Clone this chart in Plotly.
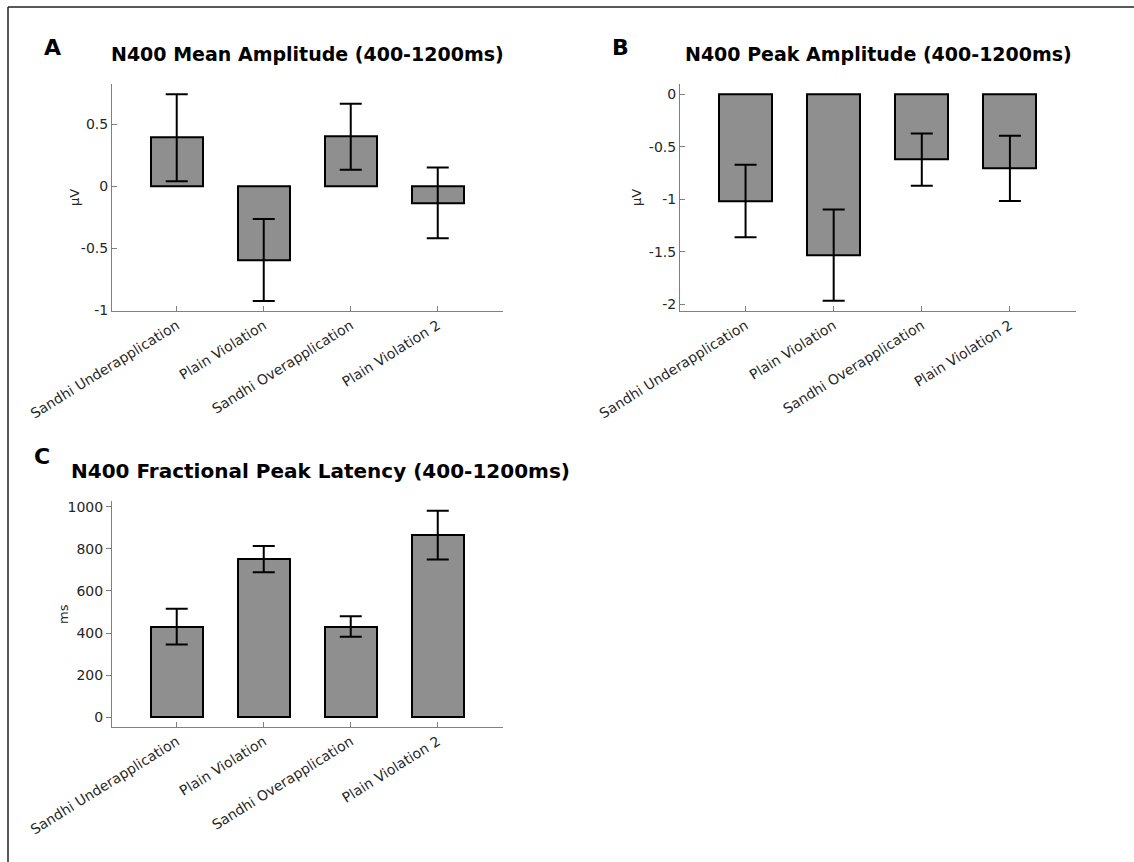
import plotly.graph_objects as go

categories = ["Sandhi Underapplication", "Plain Violation", "Sandhi Overapplication", "Plain Violation 2"]

mean_amp = [0.39, -0.594, 0.398, -0.134]
mean_amp_err = [0.35, 0.33, 0.265, 0.285]

peak_amp = [-1.017, -1.532, -0.622, -0.706]
peak_amp_err = [0.345, 0.435, 0.248, 0.31]

latency = [431, 751, 431, 865]
latency_err = [85, 62, 49, 116]

W, H = 1134, 862
FONT = "DejaVu Sans"
BAR_COLOR = "#8f8f8f"
AX_COLOR = "#808080"
TXT = "#262626"

fig = go.Figure()
xs = list(range(len(categories)))

def add_panel(vals, errs, xa, ya):
    fig.add_trace(go.Bar(
        x=xs, y=vals, width=0.6,
        marker=dict(color=BAR_COLOR, line=dict(color="black", width=2)),
        error_y=dict(type="data", array=errs, visible=True, color="black", thickness=2, width=11),
        xaxis=xa, yaxis=ya, showlegend=False, hoverinfo="skip"))

add_panel(mean_amp, mean_amp_err, "x", "y")
add_panel(peak_amp, peak_amp_err, "x2", "y2")
add_panel(latency, latency_err, "x3", "y3")

def px_x(p):
    return p / W

def px_y(p):
    return 1 - p / H

common_x = dict(tickvals=xs, ticktext=categories, tickangle=-32, range=[-0.744, 3.75],
                showline=True, linecolor=AX_COLOR, linewidth=1, ticks="inside", ticklen=5,
                tickcolor=AX_COLOR, showgrid=False, zeroline=False, automargin=False,
                tickfont=dict(family=FONT, size=14, color=TXT))
common_y = dict(showline=True, linecolor=AX_COLOR, linewidth=1, ticks="inside", ticklen=5,
                tickcolor=AX_COLOR, showgrid=False, zeroline=False, automargin=False,
                tickfont=dict(family=FONT, size=14, color=TXT))

xA = [px_x(112), px_x(503)]
xB = [px_x(680), px_x(1076)]
yTop = [px_y(311), px_y(84.3)]
yBot = [px_y(727), px_y(501)]

fig.update_layout(
    width=W, height=H, margin=dict(l=0, r=0, t=0, b=0, autoexpand=False),
    paper_bgcolor="white", plot_bgcolor="white",
    bargap=0,
    xaxis=dict(domain=xA, anchor="y", **common_x),
    yaxis=dict(domain=yTop, anchor="x", range=[-1.005, 0.82], tickvals=[-1, -0.5, 0, 0.5],
               ticktext=["-1", "-0.5", "0", "0.5"], **common_y),
    xaxis2=dict(domain=xB, anchor="y2", **common_x),
    yaxis2=dict(domain=yTop, anchor="x2", range=[-2.064, 0.095], tickvals=[-2, -1.5, -1, -0.5, 0],
                ticktext=["-2", "-1.5", "-1", "-0.5", "0"], **common_y),
    xaxis3=dict(domain=xA, anchor="y3", **common_x),
    yaxis3=dict(domain=yBot, anchor="x3", range=[-46, 1027], tickvals=[0, 200, 400, 600, 800, 1000],
                **{**common_y, "ticks": "outside"}),
)

def ann(text, x, y, size, bold=False, color="black", angle=0):
    fig.add_annotation(text=f"<b>{text}</b>" if bold else text, x=px_x(x), y=px_y(y),
                       xref="paper", yref="paper", showarrow=False, textangle=angle,
                       font=dict(family=FONT, size=size, color=color),
                       xanchor="center", yanchor="middle")

ann("A", 52, 47, 22, bold=True)
ann("B", 620, 47, 22, bold=True)
ann("C", 42, 456, 22, bold=True)
ann("N400 Mean Amplitude (400-1200ms)", 307.5, 54, 19, bold=True)
ann("N400 Peak Amplitude (400-1200ms)", 878, 54, 19, bold=True)
ann("N400 Fractional Peak Latency (400-1200ms)", 320, 471, 20, bold=True)
ann("μV", 75, 198, 13, color=TXT, angle=-90)
ann("μV", 637, 198, 13, color=TXT, angle=-90)
ann("ms", 63, 614, 13, color=TXT, angle=-90)

# outer frame (top and left edges)
fig.add_shape(type="line", xref="paper", yref="paper", x0=px_x(8), x1=1, y0=px_y(7), y1=px_y(7),
              line=dict(color="#222222", width=1.5))
fig.add_shape(type="line", xref="paper", yref="paper", x0=px_x(8), x1=px_x(8), y0=0, y1=px_y(7),
              line=dict(color="#222222", width=1.5))

fig.write_html("out.html")
